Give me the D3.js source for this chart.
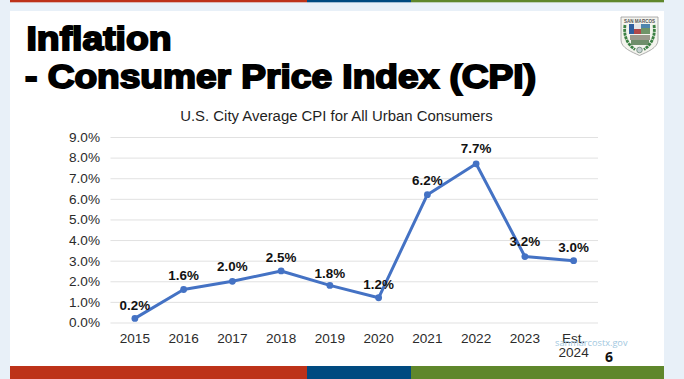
<!DOCTYPE html>
<html><head><meta charset="utf-8">
<script src="https://cdn.jsdelivr.net/npm/d3@7"></script>
<style>html,body{margin:0;padding:0;background:#e8f0f8}svg{display:block}text{font-family:"Liberation Sans",Arial,sans-serif}</style>
</head><body><svg id="c" width="684" height="379"></svg>
<script>
const categories=["2015","2016","2017","2018","2019","2020","2021","2022","2023","Est. 2024"];
const values=[0.2,1.6,2.0,2.5,1.8,1.2,6.2,7.7,3.2,3.0];
const yTicks=[0,1,2,3,4,5,6,7,8,9];
const titleLines=["Inflation","- Consumer Price Index (CPI)"];
const chartTitle="U.S. City Average CPI for All Urban Consumers";
const barSegments=[{from:10,to:307,color:"#bd3219"},{from:307,to:411,color:"#004a80"},{from:411,to:664,color:"#5f872b"}];

const svg=d3.select("#c");
svg.append("rect").attr("x",10).attr("y",11).attr("width",654).attr("height",355).attr("fill","#fff");
[[0,2.3],[366,13]].forEach(([y,h])=>{
  svg.selectAll(null).data(barSegments).join("rect").attr("x",d=>d.from).attr("width",d=>d.to-d.from).attr("y",y).attr("height",h).attr("fill",d=>d.color);
});
svg.selectAll(null).data(titleLines).join("text")
  .attr("x",(d,i)=>i?25:26.5).attr("y",(d,i)=>i?88:50).text(d=>d)
  .attr("font-size",33).attr("font-weight",700).attr("fill","#000").attr("stroke","#000").attr("stroke-width",1.9).attr("stroke-linejoin","miter")
  .attr("textLength",(d,i)=>i?511:145).attr("lengthAdjust","spacingAndGlyphs");
svg.append("text").attr("x",336.5).attr("y",121).attr("text-anchor","middle").attr("font-size",14.9).attr("fill","#1f1f1f").text(chartTitle);

const x=d3.scaleBand().domain(categories).range([110.5,598]);
const y=d3.scaleLinear().domain([0,9]).range([322.5,137]);

const yAxis=svg.append("g").attr("transform","translate(110.5,0)").call(d3.axisLeft(y).tickValues(yTicks).tickSize(-487.5).tickFormat(d=>d3.format(".1f")(d)+"%"));
yAxis.select(".domain").remove();
yAxis.selectAll("line").attr("stroke","#dedede").attr("stroke-width",0.9);
yAxis.selectAll("text").attr("x",-10.5).attr("font-size",13.6).attr("fill","#2b2b2b");

const xAxis=svg.append("g").attr("transform","translate(0,322.5)").call(d3.axisBottom(x).tickSize(0));
xAxis.select(".domain").remove();
xAxis.selectAll("text").attr("font-size",13.6).attr("fill","#2b2b2b").attr("y",20).attr("dy",0).each(function(d){
  const parts=d.split(" ");
  if(parts.length>1){
    const t=d3.select(this).text(null);
    parts.forEach((p,i)=>t.append("tspan").attr("x",0).attr("y",20+i*14.5).text(p));
  }
});

const cx=d=>x(d)+x.bandwidth()/2;
const line=d3.line().x((d,i)=>cx(categories[i])).y(d=>y(d));
svg.append("path").attr("d",line(values)).attr("fill","none").attr("stroke","#4472c4").attr("stroke-width",3).attr("stroke-linejoin","round");
svg.selectAll(null).data(values).join("circle").attr("cx",(d,i)=>cx(categories[i])).attr("cy",d=>y(d)).attr("r",3.4).attr("fill","#4472c4");
const labelLift=[8.5,9.5,10,9,7.5,8.8,9.7,10.8,10.5,8.7];
svg.selectAll(null).data(values).join("text").attr("x",(d,i)=>cx(categories[i])).attr("y",(d,i)=>y(d)-labelLift[i]).attr("dy",0)
  .attr("text-anchor","middle").attr("font-size",13.4).attr("font-weight",700).attr("fill","#111").text(d=>d3.format(".1f")(d)+"%");

svg.append("text").attr("x",627.5).attr("y",346).attr("text-anchor","end").attr("font-size",9.2).attr("fill","#a2c8e0").style("font-family","'Open Sans'").text("sanmarcostx.gov");
svg.append("text").attr("x",609).attr("y",362).attr("text-anchor","middle").attr("font-size",14).attr("font-weight",700).attr("fill","#111").style("font-family","'Open Sans'").text("6");

// crest
const g=svg.append("g").attr("transform","translate(621,16)");
const shield="M0 1H37V24C37 32 26 36 18.500 39.500C11 36 0 32 0 24Z";
g.append("path").attr("d",shield).attr("fill","#f4f4ee").attr("stroke","#9a9a9a").attr("stroke-width",.8);
g.append("text").attr("x",18.500).attr("y",6.500).attr("text-anchor","middle").attr("font-size",4.600).attr("font-weight",700).attr("fill","#555").attr("textLength",31).attr("lengthAdjust","spacingAndGlyphs").text("SAN MARCOS");
g.append("rect").attr("x",8).attr("y",8).attr("width",21).attr("height",10).attr("fill","#4f86ad");
g.append("rect").attr("x",8).attr("y",8).attr("width",5).attr("height",10).attr("fill","#2f5f9f");
g.append("rect").attr("x",13).attr("y",13).attr("width",7).attr("height",5).attr("fill","#b04848");
g.append("rect").attr("x",13).attr("y",8).attr("width",7).attr("height",5).attr("fill","#e6e6e6");
g.append("rect").attr("x",20).attr("y",12).attr("width",9).attr("height",6).attr("fill","#6f9468");
g.append("rect").attr("x",9).attr("y",19).attr("width",20).attr("height",5).attr("fill","#9a9a8c");
g.append("rect").attr("x",10).attr("y",24).attr("width",18).attr("height",5).attr("fill","#6f8f6a");
g.append("circle").attr("cx",18.500).attr("cy",34).attr("r",2.800).attr("fill","#c5d0d0").attr("stroke","#5f7f6f").attr("stroke-width",.7);
g.append("path").attr("d","M4 9C2.500 20 6 28 14 33.500").attr("fill","none").attr("stroke","#3c8044").attr("stroke-width",2.800).attr("stroke-dasharray","3 .8");
g.append("path").attr("d","M33 9C34.500 20 31 28 23 33.500").attr("fill","none").attr("stroke","#3c8044").attr("stroke-width",2.800).attr("stroke-dasharray","3 .8");
</script></body></html>
